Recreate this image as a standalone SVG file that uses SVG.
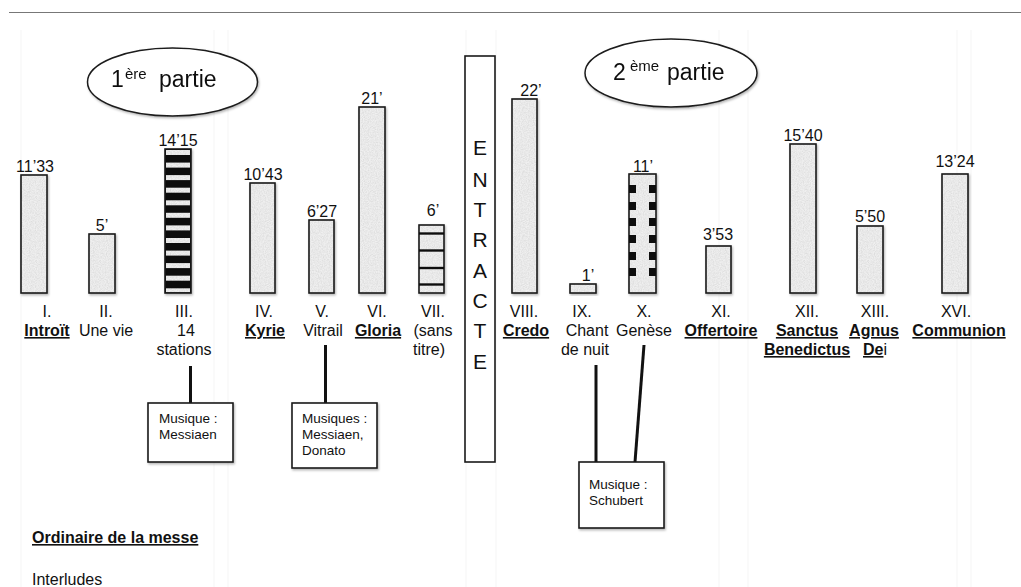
<svg xmlns="http://www.w3.org/2000/svg" width="1021" height="587" viewBox="0 0 1021 587">
  <style>
    text { font-family: "Liberation Sans", Arial, sans-serif; fill: #111; }
    .lbl { font-size: 16px; text-anchor: middle; }
    .num { font-size: 16px; text-anchor: middle; }
    .ord { font-weight: bold; text-decoration: underline; }
    .note { font-size: 13.5px; }
    .big { font-size: 23px; }
    .sup { font-size: 15px; }
    .ent { font-size: 21px; text-anchor: middle; }
    .bar { fill: url(#grain); stroke: #1a1a1a; stroke-width: 1.6; }
    .box { fill: #fff; stroke: #1a1a1a; stroke-width: 1.6; }
    .link { stroke: #111; stroke-width: 3; fill: none; }
    .guide { stroke: #f5f5f5; stroke-width: 1; }
  </style>
  <defs>
    <filter id="noise" x="0" y="0" width="100%" height="100%">
      <feTurbulence type="fractalNoise" baseFrequency="0.85" numOctaves="2" seed="4"/>
      <feColorMatrix type="matrix" values="0 0 0 0 0.55  0 0 0 0 0.55  0 0 0 0 0.55  0.8 0 0 0 -0.25"/>
    </filter>
    <pattern id="grain" patternUnits="userSpaceOnUse" width="64" height="64">
      <rect width="64" height="64" fill="#efefef"/>
      <rect width="64" height="64" filter="url(#noise)"/>
    </pattern>
    <filter id="shadow" x="-20%" y="-20%" width="150%" height="150%">
      <feDropShadow dx="1" dy="1.5" stdDeviation="1" flood-color="#000" flood-opacity="0.3"/>
    </filter>
  </defs>

  <rect width="1021" height="587" fill="#fff"/>

  <!-- faint page guides -->
  <g id="guides">
    <line class="guide" x1="21" y1="30" x2="21" y2="587"/>
    <line class="guide" x1="214" y1="30" x2="214" y2="587"/>
    <line class="guide" x1="228" y1="30" x2="228" y2="587"/>
    <line class="guide" x1="466" y1="30" x2="466" y2="587"/>
    <line class="guide" x1="496" y1="30" x2="496" y2="587"/>
    <line class="guide" x1="719" y1="30" x2="719" y2="587"/>
    <line class="guide" x1="748" y1="30" x2="748" y2="587"/>
    <line class="guide" x1="957" y1="30" x2="957" y2="587"/>
    <line class="guide" x1="971" y1="30" x2="971" y2="587"/>
  </g>

  <!-- header rule -->
  <line x1="9" y1="12.5" x2="1021" y2="12.5" stroke="#777" stroke-width="1.2"/>

  <!-- part titles -->
  <g id="partie1" filter="url(#shadow)">
    <ellipse cx="172.5" cy="82" rx="85" ry="34" fill="#fff" stroke="#1a1a1a" stroke-width="1.5"/>
    <text class="big" x="111" y="87">1</text>
    <text class="sup" x="125" y="79">ère</text>
    <text class="big" x="159" y="87">partie</text>
  </g>
  <g id="partie2" filter="url(#shadow)">
    <ellipse cx="671" cy="73" rx="86" ry="34" fill="#fff" stroke="#1a1a1a" stroke-width="1.5"/>
    <text class="big" x="613" y="80">2</text>
    <text class="sup" x="630" y="71">ème</text>
    <text class="big" x="667" y="80">partie</text>
  </g>

  <!-- intermission -->
  <g id="entracte">
    <rect x="465" y="56" width="30" height="406" fill="#fff" stroke="#1a1a1a" stroke-width="1.6"/>
    <text class="ent" x="480" y="155">E</text>
    <text class="ent" x="480" y="187">N</text>
    <text class="ent" x="480" y="217">T</text>
    <text class="ent" x="480" y="247">R</text>
    <text class="ent" x="480" y="278">A</text>
    <text class="ent" x="480" y="308">C</text>
    <text class="ent" x="480" y="338">T</text>
    <text class="ent" x="480" y="369">E</text>
  </g>

  <!-- connectors to music notes -->
  <g id="connectors">
    <line class="link" x1="190.5" y1="366" x2="190.5" y2="403"/>
    <line class="link" x1="325.5" y1="345" x2="325.5" y2="403"/>
    <line class="link" x1="596" y1="365" x2="596" y2="462"/>
    <line class="link" x1="644" y1="345" x2="635" y2="462"/>
  </g>

  <!-- I. Introït -->
  <g id="n1">
    <text class="num" x="35" y="172">11’33</text>
    <rect class="bar" x="21" y="175" width="26" height="118" filter="url(#shadow)"/>
    <text class="lbl" x="47" y="317">I.</text>
    <text class="lbl ord" x="47" y="336">Introït</text>
  </g>

  <!-- II. Une vie -->
  <g id="n2">
    <text class="num" x="102" y="231">5’</text>
    <rect class="bar" x="89" y="234" width="26" height="59" filter="url(#shadow)"/>
    <text class="lbl" x="106" y="317">II.</text>
    <text class="lbl" x="106" y="336">Une vie</text>
  </g>

  <!-- III. 14 stations -->
  <g id="n3">
    <text class="num" x="178" y="146">14’15</text>
    <g filter="url(#shadow)">
      <rect x="165" y="149" width="26" height="144" fill="#0d0d0d"/>
      <g fill="url(#grain)">
        <rect x="166" y="150" width="24" height="5"/>
        <rect x="166" y="162.6" width="24" height="5"/>
        <rect x="166" y="175.1" width="24" height="5"/>
        <rect x="166" y="187.7" width="24" height="5"/>
        <rect x="166" y="200.3" width="24" height="5"/>
        <rect x="166" y="212.8" width="24" height="5"/>
        <rect x="166" y="225.4" width="24" height="5"/>
        <rect x="166" y="238" width="24" height="5"/>
        <rect x="166" y="250.6" width="24" height="5"/>
        <rect x="166" y="263.1" width="24" height="5"/>
        <rect x="166" y="275.7" width="24" height="5"/>
        <rect x="166" y="288.3" width="24" height="4"/>
      </g>
      <rect x="165" y="149" width="26" height="144" fill="none" stroke="#1a1a1a" stroke-width="1.6"/>
    </g>
    <text class="lbl" x="184" y="317">III.</text>
    <text class="lbl" x="186" y="336">14</text>
    <text class="lbl" x="184" y="355">stations</text>
  </g>

  <!-- IV. Kyrie -->
  <g id="n4">
    <text class="num" x="263" y="180">10’43</text>
    <rect class="bar" x="250" y="183" width="25" height="110" filter="url(#shadow)"/>
    <text class="lbl" x="264" y="317">IV.</text>
    <text class="lbl ord" x="265" y="336">Kyrie</text>
  </g>

  <!-- V. Vitrail -->
  <g id="n5">
    <text class="num" x="322" y="217">6’27</text>
    <rect class="bar" x="309" y="220" width="25" height="73" filter="url(#shadow)"/>
    <text class="lbl" x="322" y="317">V.</text>
    <text class="lbl" x="323" y="336">Vitrail</text>
  </g>

  <!-- VI. Gloria -->
  <g id="n6">
    <text class="num" x="372" y="104">21’</text>
    <rect class="bar" x="359" y="107" width="26" height="186" filter="url(#shadow)"/>
    <text class="lbl" x="377" y="317">VI.</text>
    <text class="lbl ord" x="378" y="336">Gloria</text>
  </g>

  <!-- VII. (sans titre) -->
  <g id="n7">
    <text class="num" x="433" y="216">6’</text>
    <g filter="url(#shadow)">
      <rect class="bar" x="419" y="225" width="25" height="68"/>
      <g stroke="#111" stroke-width="2.4">
        <line x1="419" y1="233.5" x2="444" y2="233.5"/>
        <line x1="419" y1="250.5" x2="444" y2="250.5"/>
        <line x1="419" y1="268" x2="444" y2="268"/>
        <line x1="419" y1="284.5" x2="444" y2="284.5"/>
      </g>
    </g>
    <text class="lbl" x="433" y="317">VII.</text>
    <text class="lbl" x="433" y="336">(sans</text>
    <text class="lbl" x="429" y="355">titre)</text>
  </g>

  <!-- VIII. Credo -->
  <g id="n8">
    <text class="num" x="531" y="96">22’</text>
    <rect class="bar" x="512" y="99" width="25" height="194" filter="url(#shadow)"/>
    <text class="lbl" x="524" y="317">VIII.</text>
    <text class="lbl ord" x="526" y="336">Credo</text>
  </g>

  <!-- IX. Chant de nuit -->
  <g id="n9">
    <text class="num" x="588" y="281">1’</text>
    <rect class="bar" x="570" y="284" width="26" height="9" filter="url(#shadow)"/>
    <text class="lbl" x="582" y="317">IX.</text>
    <text class="lbl" x="587" y="336">Chant</text>
    <text class="lbl" x="585" y="355">de nuit</text>
  </g>

  <!-- X. Genèse -->
  <g id="n10">
    <text class="num" x="643" y="172">11’</text>
    <g filter="url(#shadow)">
      <rect class="bar" x="629" y="174" width="27" height="119"/>
      <g fill="#0d0d0d">
        <rect x="629" y="185" width="7" height="8"/>
        <rect x="629" y="202" width="7" height="8"/>
        <rect x="629" y="218" width="7" height="8"/>
        <rect x="629" y="235" width="7" height="8"/>
        <rect x="629" y="252" width="7" height="8"/>
        <rect x="629" y="268" width="7" height="8"/>
        <rect x="649" y="185" width="7" height="8"/>
        <rect x="649" y="202" width="7" height="8"/>
        <rect x="649" y="218" width="7" height="8"/>
        <rect x="649" y="235" width="7" height="8"/>
        <rect x="649" y="252" width="7" height="8"/>
        <rect x="649" y="268" width="7" height="8"/>
      </g>
    </g>
    <text class="lbl" x="644" y="317">X.</text>
    <text class="lbl" x="644" y="336">Genèse</text>
  </g>

  <!-- XI. Offertoire -->
  <g id="n11">
    <text class="num" x="718" y="240">3’53</text>
    <rect class="bar" x="706" y="246" width="25" height="47" filter="url(#shadow)"/>
    <text class="lbl" x="721" y="317">XI.</text>
    <text class="lbl ord" x="721" y="336">Offertoire</text>
  </g>

  <!-- XII. Sanctus Benedictus -->
  <g id="n12">
    <text class="num" x="803" y="141">15’40</text>
    <rect class="bar" x="790" y="144" width="26" height="149" filter="url(#shadow)"/>
    <text class="lbl" x="807" y="317">XII.</text>
    <text class="lbl ord" x="807" y="336">Sanctus</text>
    <text class="lbl ord" x="807" y="355">Benedictus</text>
  </g>

  <!-- XIII. Agnus Dei -->
  <g id="n13">
    <text class="num" x="870" y="222">5’50</text>
    <rect class="bar" x="857" y="226" width="26" height="67" filter="url(#shadow)"/>
    <text class="lbl" x="875" y="317">XIII.</text>
    <text class="lbl ord" x="874" y="336">Agnus</text>
    <text x="863" y="355" font-size="16"><tspan class="ord">De</tspan>i</text>
  </g>

  <!-- XVI. Communion -->
  <g id="n16">
    <text class="num" x="955" y="167">13’24</text>
    <rect class="bar" x="942" y="174" width="26" height="119" filter="url(#shadow)"/>
    <text class="lbl" x="956" y="317">XVI.</text>
    <text class="lbl ord" x="959" y="336">Communion</text>
  </g>

  <!-- music notes -->
  <g id="musique1">
    <rect class="box" x="148" y="403" width="85" height="59" filter="url(#shadow)"/>
    <text class="note" x="159" y="423">Musique :</text>
    <text class="note" x="159" y="439">Messiaen</text>
  </g>
  <g id="musique2">
    <rect class="box" x="292" y="403" width="85" height="65" filter="url(#shadow)"/>
    <text class="note" x="302" y="423">Musiques :</text>
    <text class="note" x="302" y="439">Messiaen,</text>
    <text class="note" x="302" y="455">Donato</text>
  </g>
  <g id="musique3">
    <rect class="box" x="579" y="462" width="85" height="66" filter="url(#shadow)"/>
    <text class="note" x="589" y="489">Musique :</text>
    <text class="note" x="589" y="505">Schubert</text>
  </g>

  <!-- legend -->
  <g id="legende">
    <text x="32" y="543" font-size="16" class="ord">Ordinaire de la messe</text>
    <text x="32" y="585" font-size="16">Interludes</text>
  </g>
</svg>
